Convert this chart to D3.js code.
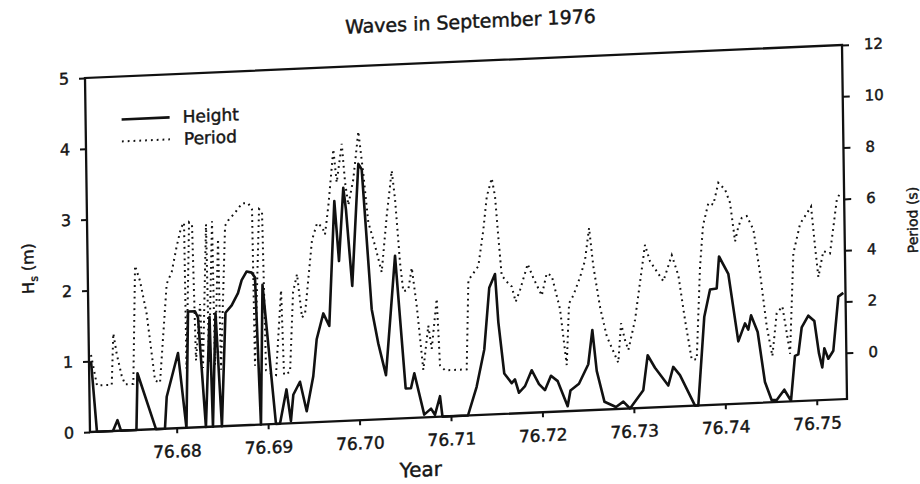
<!DOCTYPE html>
<html>
<head>
<meta charset="utf-8">
<script src="https://cdn.jsdelivr.net/npm/d3@7"></script>
<style>
  body { margin: 0; background: #fff; }
  text { font-family: "DejaVu Sans", sans-serif; fill: #161616; stroke: #161616; stroke-width: 0.45px; }
</style>
</head>
<body>
<svg id="chart" width="920" height="484"></svg>
<script>
// --- Data ---
const heightYear = [76.67074, 76.67128, 76.67303, 76.67354, 76.67391, 76.67560, 76.67580, 76.67774, 76.67872, 76.67896,
  76.68026, 76.68107, 76.68142, 76.68218, 76.68250, 76.68320, 76.68376, 76.68397, 76.68442, 76.68495,
  76.68551, 76.68620, 76.68691, 76.68733, 76.68789, 76.68844, 76.68879, 76.68922, 76.68960, 76.69086,
  76.69130, 76.69206, 76.69250, 76.69280, 76.69355, 76.69424, 76.69501, 76.69544, 76.69620, 76.69684,
  76.69758, 76.69800, 76.69858, 76.69884, 76.69941, 76.70026, 76.70062, 76.70150, 76.70217, 76.70296,
  76.70413, 76.70509, 76.70567, 76.70606, 76.70708, 76.70783, 76.70825, 76.70883, 76.70907, 76.71186,
  76.71285, 76.71374, 76.71438, 76.71503, 76.71532, 76.71589, 76.71669, 76.71705, 76.71747, 76.71814,
  76.71889, 76.71967, 76.72031, 76.72099, 76.72172, 76.72277, 76.72310, 76.72404, 76.72509, 76.72558,
  76.72600, 76.72680, 76.72805, 76.72886, 76.72958, 76.73106, 76.73159, 76.73237, 76.73380, 76.73437,
  76.73509, 76.73669, 76.73705, 76.73784, 76.73851, 76.73924, 76.73954, 76.74053, 76.74152, 76.74228,
  76.74263, 76.74295, 76.74365, 76.74437, 76.74508, 76.74563, 76.74647, 76.74719, 76.74769, 76.74806,
  76.74847, 76.74921, 76.74986, 76.75032, 76.75066, 76.75091, 76.75133, 76.75189, 76.75252, 76.75307];

const heightM = [1.0, 0, 0, 0.15, 0, 0, 0.8, 0, 0, 0.45,
  1.06, 0, 1.64, 1.64, 1.55, 0, 1.55, 0, 1.6, 0,
  1.6, 1.7, 1.87, 2.05, 2.17, 2.15, 2.08, 0, 1.97, 0,
  0, 0.48, 0.03, 0.4, 0.58, 0.16, 0.65, 1.17, 1.53, 1.35,
  3.11, 2.26, 3.29, 2.98, 1.9, 3.62, 3.54, 1.56, 1.07, 0.62,
  2.3, 0.42, 0.42, 0.63, 0.04, 0.12, 0.03, 0.29, 0, 0,
  0.4, 0.92, 1.79, 1.98, 1.3, 0.57, 0.43, 0.48, 0.29, 0.38,
  0.6, 0.4, 0.31, 0.51, 0.43, 0.07, 0.29, 0.38, 0.65, 1.13,
  0.55, 0.11, 0.03, 0.1, 0, 0.25, 0.74, 0.56, 0.3, 0.56,
  0.44, 0, 0, 1.25, 1.63, 1.64, 2.09, 1.84, 0.88, 1.13,
  1.04, 1.24, 1.0, 0.29, 0.03, 0.03, 0.17, 0.01, 0.64, 0.66,
  1.04, 1.2, 1.12, 0.66, 0.46, 0.73, 0.58, 0.69, 1.45, 1.5];

const periodYear = [76.67075, 76.67136, 76.67297, 76.67322, 76.67356, 76.67407, 76.67442, 76.67533, 76.67570, 76.67622,
  76.67690, 76.67771, 76.67825, 76.67913, 76.67970, 76.68029, 76.68078, 76.68112, 76.68117, 76.68167,
  76.68199, 76.68222, 76.68274, 76.68297, 76.68352, 76.68364, 76.68418, 76.68429, 76.68481, 76.68494,
  76.68560, 76.68593, 76.68671, 76.68749, 76.68815, 76.68857, 76.68866, 76.68934, 76.68966, 76.68986,
  76.69029, 76.69094, 76.69162, 76.69182, 76.69248, 76.69293, 76.69339, 76.69387, 76.69421, 76.69508,
  76.69566, 76.69620, 76.69651, 76.69692, 76.69755, 76.69787, 76.69848, 76.69878, 76.69911, 76.69969,
  76.70031, 76.70079, 76.70126, 76.70196, 76.70265, 76.70329, 76.70390, 76.70422, 76.70467, 76.70498,
  76.70553, 76.70594, 76.70643, 76.70705, 76.70766, 76.70800, 76.70862, 76.70888, 76.70942, 76.71179,
  76.71211, 76.71322, 76.71382, 76.71425, 76.71482, 76.71515, 76.71545, 76.71576, 76.71630, 76.71684,
  76.71725, 76.71774, 76.71862, 76.71921, 76.72011, 76.72068, 76.72123, 76.72208, 76.72273, 76.72308,
  76.72356, 76.72432, 76.72489, 76.72538, 76.72579, 76.72646, 76.72715, 76.72837, 76.72873, 76.72914,
  76.72949, 76.73027, 76.73147, 76.73199, 76.73342, 76.73438, 76.73507, 76.73573, 76.73640, 76.73695,
  76.73745, 76.73784, 76.73846, 76.73900, 76.73958, 76.74030, 76.74083, 76.74132, 76.74170, 76.74208,
  76.74263, 76.74334, 76.74400, 76.74465, 76.74522, 76.74576, 76.74639, 76.74683, 76.74716, 76.74767,
  76.74845, 76.74920, 76.74968, 76.75005, 76.75037, 76.75095, 76.75168, 76.75250, 76.75287];

const periodS = [1.2, 0, 0, 2.0, 1.2, 0.34, 0, 0, 4.6, 4.0,
  2.7, 0.1, 0, 3.84, 4.3, 5.3, 6.0, 6.2, 0.5, 6.2,
  6.1, 0.8, 3.0, 0.5, 6.1, 0.7, 6.2, 0.6, 5.5, 0.4,
  6.0, 6.2, 6.5, 6.85, 6.85, 6.6, 0.5, 6.6, 6.5, 0.3,
  0.2, 0.1, 3.4, 0.1, 0.2, 3.3, 4.0, 2.3, 2.45, 5.3,
  5.95, 5.8, 5.5, 6.6, 8.8, 7.5, 9.0, 7.5, 6.6, 7.6,
  9.45, 7.8, 5.9, 4.98, 3.93, 6.13, 7.87, 6.75, 4.26, 3.15,
  3.2, 4.05, 2.55, 0.05, 1.77, 0.86, 2.8, 0.2, 0, 0,
  3.47, 4.0, 5.4, 6.7, 7.4, 6.7, 5.1, 3.6, 3.35, 3.15,
  2.55, 3.0, 4.0, 3.45, 2.75, 3.6, 3.5, 2.2, 0, 2.4,
  2.7, 3.4, 4.05, 5.3, 3.8, 2.2, 1.05, 0, 1.53, 0.87,
  0.48, 1.65, 4.55, 3.9, 3.1, 4.1, 3.3, 1.55, 0, 0,
  3.6, 5.2, 6.07, 6.0, 6.84, 6.57, 6.04, 4.53, 5.1, 5.43,
  5.5, 4.96, 3.25, 1.17, 0, 1.66, 1.92, 0.87, 0.06, 3.96,
  5.1, 5.5, 5.76, 4.2, 3.0, 4.0, 3.9, 5.97, 6.24];

const yearTicks = [76.68, 76.69, 76.70, 76.71, 76.72, 76.73, 76.74, 76.75];
const hsTicks = [0, 1, 2, 3, 4, 5];
const periodTicks = [0, 2, 4, 6, 8, 10, 12];

// --- Layout ---
// the scan is slightly skewed, so the whole chart sits in one tilted group
const W = 757, H = 354;
const svg = d3.select('#chart');
svg.append('rect').attr('width', 920).attr('height', 484).attr('fill', '#fff');

const g = svg.append('g')
  .attr('transform', 'matrix(1,-0.0436,0.0141,1,85,78)');

const x = d3.scaleLinear().domain([76.67052, 76.75331]).range([0, W]);
const yH = d3.scaleLinear().domain([0, 5]).range([H, 0]);
const yP = d3.scaleLinear().domain([-1.8, 12]).range([H, 0]);

// --- Axes ---
const ink = '#111';

const xAxis = g.append('g')
  .attr('transform', `translate(0,${H})`)
  .call(d3.axisBottom(x).tickValues(yearTicks).tickFormat(d3.format('.2f'))
    .tickSize(5).tickSizeOuter(0).tickPadding(12));
xAxis.selectAll('text').style('font-size', '17px');

const leftAxis = g.append('g')
  .call(d3.axisLeft(yH).tickValues(hsTicks).tickFormat(d3.format('d'))
    .tickSize(6).tickSizeOuter(0).tickPadding(10));
leftAxis.selectAll('text').style('font-size', '16px');

const rightAxis = g.append('g')
  .attr('transform', `translate(${W},0)`)
  .call(d3.axisRight(yP).tickValues(periodTicks).tickFormat(d3.format('d'))
    .tickSize(7).tickSizeOuter(0).tickPadding(15));
rightAxis.selectAll('text').style('font-size', '15px');

g.selectAll('.domain').remove();
g.selectAll('.tick line').attr('stroke', ink).attr('stroke-width', 2);

// frame
g.append('rect')
  .attr('width', W).attr('height', H)
  .attr('fill', 'none').attr('stroke', ink).attr('stroke-width', 2.3);

// --- Series ---
const heightData = d3.zip(heightYear, heightM);
const periodData = d3.zip(periodYear, periodS);

g.append('path')
  .datum(periodData)
  .attr('fill', 'none')
  .attr('stroke', ink)
  .attr('stroke-width', 2)
  .attr('stroke-dasharray', '1.8,4')
  .attr('d', d3.line().x(d => x(d[0])).y(d => yP(d[1])));

g.append('path')
  .datum(heightData)
  .attr('fill', 'none')
  .attr('stroke', ink)
  .attr('stroke-width', 2.6)
  .attr('stroke-linejoin', 'round')
  .attr('d', d3.line().x(d => x(d[0])).y(d => yH(d[1])));

// --- Legend ---
const legend = g.append('g').attr('transform', 'translate(36,43)');
legend.append('line').attr('x1', 0).attr('x2', 48).attr('y1', 0).attr('y2', 0)
  .attr('stroke', ink).attr('stroke-width', 2.6);
legend.append('line').attr('x1', 0).attr('x2', 48).attr('y1', 22).attr('y2', 22)
  .attr('stroke', ink).attr('stroke-width', 2).attr('stroke-dasharray', '1.8,4');
legend.append('text').attr('x', 61).attr('y', 6).style('font-size', '17px').text('Height');
legend.append('text').attr('x', 62).attr('y', 28).style('font-size', '17px').text('Period');

// --- Titles ---
g.append('text')
  .attr('x', 386).attr('y', -33)
  .attr('text-anchor', 'middle')
  .style('font-size', '19px')
  .text('Waves in September 1976');

g.append('text')
  .attr('x', 330).attr('y', 413)
  .attr('text-anchor', 'middle')
  .style('font-size', '20px')
  .text('Year');

const hsLabel = g.append('text')
  .attr('transform', 'translate(-54,188) rotate(-90)')
  .attr('text-anchor', 'middle')
  .style('font-size', '16px');
hsLabel.append('tspan').text('H');
hsLabel.append('tspan').attr('dy', 4).style('font-size', '11px').text('s');
hsLabel.append('tspan').attr('dy', -4).text(' (m)');

g.append('text')
  .attr('transform', 'translate(830,178) rotate(-90)')
  .attr('text-anchor', 'middle')
  .style('font-size', '14px')
  .text('Period (s)');
</script>
</body>
</html>
